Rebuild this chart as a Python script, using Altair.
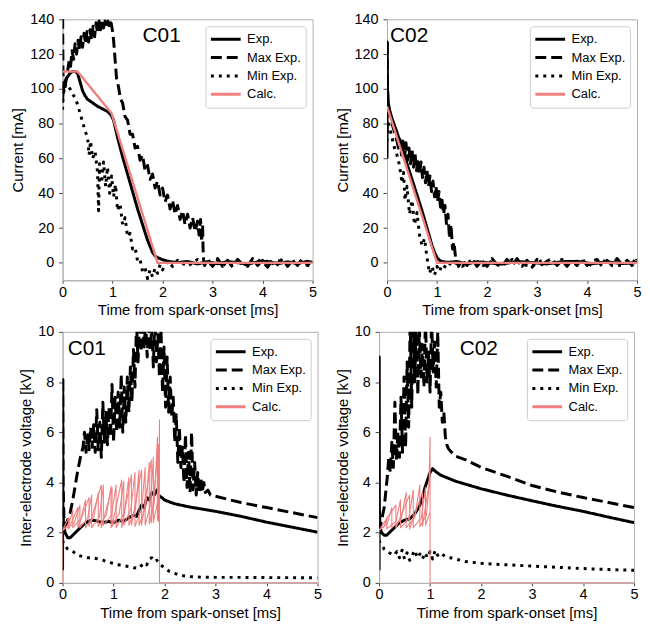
import altair as alt
import pandas as pd

FONT = "Liberation Sans"
NAMES = ["Exp.", "Max Exp.", "Min Exp.", "Calc."]
COLORS = ["#000000", "#000000", "#000000", "#f08080"]
DASHES = [[1, 0], [11, 5], [3, 5], [1, 0]]
LEGEND_WIDTHS = [3, 3, 3, 1.6]
X_TICKS = [0, 1, 2, 3, 4, 5]
X_TITLE = "Time from spark-onset [ms]"
I_TICKS = [0, 20, 40, 60, 80, 100, 120, 140]
V_TICKS = [0, 2, 4, 6, 8, 10]

# ---------------- C01 current ----------------
c01i_exp_t = [0, 0.01, 0.03, 0.06, 0.1, 0.15, 0.2, 0.25, 0.3, 0.35,
              0.4, 0.45, 0.5, 0.6, 0.7, 0.8, 0.9, 0.97, 1.02, 1.1,
              1.2, 1.3, 1.4, 1.5, 1.6, 1.7, 1.8, 1.85, 1.9, 2.0,
              2.1, 2.2, 2.3, 2.5, 2.7, 2.9, 3.1, 3.3, 3.5, 3.7,
              3.9, 4.1, 4.3, 4.5, 4.7, 4.9, 5.0]
c01i_exp_v = [92, 100, 103, 105, 107, 109, 110, 110, 109, 104,
              99, 96, 94, 92, 90, 88.5, 87, 85, 82, 72,
              61, 51, 41, 31, 22, 13, 6, 4, 3, 1.8,
              1, 0.5, 0.2, 0.8, -0.6, 0.7, -0.5, 0.8, 0.1, -0.7,
              0.6, 0.9, -0.5, 0.6, -0.4, 0.9, 0.2]
c01i_max_t = [0, 0.004, 0.008, 0.015, 0.03, 0.05, 0.07, 0.1, 0.13, 0.16,
              0.19, 0.22, 0.25, 0.28, 0.31, 0.34, 0.37, 0.4, 0.43, 0.46,
              0.49, 0.52, 0.55, 0.58, 0.61, 0.64, 0.67, 0.7, 0.73, 0.76,
              0.79, 0.82, 0.85, 0.88, 0.91, 0.94, 0.97, 1.0, 1.02, 1.05,
              1.08, 1.12, 1.16, 1.2, 1.25, 1.3, 1.35, 1.4, 1.45, 1.5,
              1.55, 1.6, 1.65, 1.7, 1.75, 1.8, 1.85, 1.9, 1.95, 2.0,
              2.05, 2.1, 2.15, 2.2, 2.25, 2.3, 2.35, 2.4, 2.45, 2.5,
              2.55, 2.6, 2.65, 2.7, 2.73, 2.76, 2.78, 2.8, 2.81, 2.82,
              2.84, 2.9, 3.0, 3.1, 3.2, 3.3, 3.4, 3.5, 3.6, 3.7,
              3.8, 3.9, 4.0, 4.1, 4.2, 4.3, 4.4, 4.5, 4.6, 4.7,
              4.8, 4.9, 5.0]
c01i_max_v = [150, 130, 112, 102, 98, 101, 105, 110, 116, 113,
              122, 117, 126, 120, 128, 122, 130, 124, 132, 126,
              133, 127, 134, 128, 136, 130, 138, 132, 139, 134,
              139, 135, 139, 136, 139, 135, 138, 133, 128, 117,
              106, 101, 94, 92, 84, 82, 74, 74, 66, 67,
              59, 62, 53, 56, 48, 51, 43, 47, 39, 43,
              35, 39, 31, 36, 28, 33, 25, 30, 22, 28,
              20, 26, 18, 24, 16, 25, 12, 22, 8, 2,
              -1.5, 2, -2, 2.5, -2, 1.5, -2.5, 2, -1, -2,
              2.5, -1.5, 1.5, -2.5, 2, -1, 2.5, -2, 1.5, -1.5,
              2.5, -1.5, 2]
c01i_min_t = [0, 0.01, 0.03, 0.06, 0.1, 0.15, 0.2, 0.25, 0.3, 0.35,
              0.4, 0.45, 0.5, 0.53, 0.56, 0.6, 0.65, 0.7, 0.72, 0.74,
              0.78, 0.82, 0.86, 0.9, 0.94, 0.98, 1.02, 1.06, 1.1, 1.15,
              1.2, 1.25, 1.3, 1.35, 1.4, 1.45, 1.5, 1.55, 1.6, 1.65,
              1.7, 1.75, 1.8, 1.85, 1.9, 1.95, 2.0, 2.1, 2.2, 2.3,
              2.5, 2.7, 2.9, 3.1, 3.3, 3.5, 3.7, 3.9, 4.1, 4.3,
              4.5, 4.7, 4.9, 5.0]
c01i_min_v = [88, 96, 101, 103, 102, 100, 97, 95, 91, 86,
              81, 76, 72, 62, 70, 60, 64, 52, 30, 57,
              46, 58, 44, 55, 40, 50, 38, 45, 30, 34,
              22, 26, 15, 17, 8, 9, 1, 2, -5, -3,
              -9, -4, -8, -3, -6, -1, -4, 1, -2, 1.5,
              -2, 2, -1.5, 1.5, -2, 1, -1.5, 2, -2, 1.5,
              -1, 2, -1.5, 0.5]
c01i_calc_t = [0, 0.3, 0.98, 1.9, 5.0]
c01i_calc_v = [110, 110, 86, 0, 0]

# ---------------- C02 current ----------------
c02i_exp_t = [0, 0.004, 0.008, 0.02, 0.05, 0.1, 0.2, 0.3, 0.4, 0.5,
              0.6, 0.7, 0.8, 0.85, 0.9, 0.95, 1.0, 1.05, 1.1, 1.2,
              1.4, 1.6, 1.8, 2.0, 2.3, 2.6, 2.9, 3.2, 3.5, 3.8,
              4.1, 4.4, 4.7, 5.0]
c02i_exp_v = [60, 127, 100, 93, 88, 83, 75, 66, 57, 48,
              39, 30, 20, 15, 10, 6, 3, 1.5, 0.8, 0.3,
              0.8, -0.6, 0.7, 0.1, -0.7, 0.8, 0.2, -0.6, 0.7, 0.9,
              -0.5, 0.6, -0.4, 0.2]
c02i_max_t = [0, 0.004, 0.008, 0.02, 0.05, 0.08, 0.11, 0.14, 0.17, 0.2,
              0.23, 0.26, 0.29, 0.32, 0.35, 0.38, 0.41, 0.44, 0.47, 0.5,
              0.53, 0.56, 0.59, 0.62, 0.65, 0.68, 0.71, 0.74, 0.77, 0.8,
              0.83, 0.86, 0.89, 0.92, 0.95, 0.98, 1.01, 1.04, 1.07, 1.1,
              1.13, 1.16, 1.19, 1.22, 1.25, 1.28, 1.31, 1.34, 1.37, 1.4,
              1.43, 1.5, 1.6, 1.7, 1.8, 1.9, 2.0, 2.1, 2.2, 2.3,
              2.4, 2.5, 2.6, 2.7, 2.8, 2.9, 3.0, 3.1, 3.2, 3.3,
              3.4, 3.5, 3.6, 3.7, 3.8, 3.9, 4.0, 4.1, 4.2, 4.3,
              4.4, 4.5, 4.6, 4.7, 4.8, 4.9, 5.0]
c02i_max_v = [75, 128, 105, 92, 86, 83, 79, 76, 73, 70,
              66, 71, 62, 70, 60, 69, 59, 66, 57, 65,
              55, 63, 53, 60, 51, 58, 49, 55, 46, 53,
              44, 50, 41, 47, 38, 44, 35, 41, 32, 36,
              28, 33, 22, 28, 14, 22, 8, 12, 3, 1,
              -2, 2, -1.5, 2.5, -2, 1.5, -2, 2.5, -1, -2,
              2, -1.5, 2.5, -2, 1.5, -2.5, 2, -1, 1, 2.5,
              -1.5, 1.5, -2, 2, -1.5, 2.5, -1.5, 1, 2, -2,
              1.5, -1.5, 2.5, -1, 1.5, -1.5, 2]
c02i_min_t = [0, 0.01, 0.05, 0.1, 0.15, 0.2, 0.25, 0.3, 0.33, 0.36,
              0.4, 0.45, 0.5, 0.55, 0.6, 0.65, 0.7, 0.75, 0.8, 0.85,
              0.9, 0.95, 1.0, 1.05, 1.1, 1.2, 1.3, 1.5, 1.7, 1.9,
              2.1, 2.3, 2.5, 2.7, 2.9, 3.1, 3.3, 3.5, 3.7, 3.9,
              4.1, 4.3, 4.5, 4.7, 4.9, 5.0]
c02i_min_v = [70, 82, 78, 72, 66, 62, 56, 46, 52, 36,
              44, 28, 36, 22, 29, 16, 10, 14, 3, -6,
              -2, -7, -2, -5, -1, -3, 1, -2, 1.5, -2,
              1, -1.5, 2, -1, -2, 1.5, -1, 2, -1.5, 1,
              -1.5, 1.5, -1, -1.5, 1.5, 0]
c02i_calc_t = [0, 1.0, 5.0]
c02i_calc_v = [90, 0, 0]

# ---------------- C01 voltage ----------------
c01v_exp_t = [0, 0.003, 0.006, 0.02, 0.05, 0.1, 0.15, 0.2, 0.3, 0.4,
              0.5, 0.6, 0.7, 0.8, 0.9, 1.0, 1.1, 1.2, 1.3, 1.4,
              1.45, 1.5, 1.55, 1.6, 1.65, 1.7, 1.75, 1.8, 1.85, 1.9,
              1.95, 2.0, 2.2, 2.5, 3.0, 3.5, 4.0, 4.5, 5.0]
c01v_exp_v = [0.5, 8.1, 3.0, 2.3, 2.0, 1.8, 1.8, 1.9, 2.1, 2.3,
              2.45, 2.5, 2.45, 2.4, 2.45, 2.4, 2.5, 2.45, 2.6, 2.7,
              2.65, 2.9, 3.1, 3.0, 3.4, 3.3, 3.6, 3.5, 3.7, 3.45,
              3.4, 3.3, 3.15, 3.02, 2.85, 2.65, 2.42, 2.22, 2.02]
c01v_max_t = [0, 0.003, 0.01, 0.03, 0.06, 0.1, 0.15, 0.2, 0.25, 0.3,
              0.35, 0.4, 0.43, 0.46, 0.49, 0.52, 0.55, 0.58, 0.61, 0.64,
              0.67, 0.7, 0.73, 0.76, 0.79, 0.82, 0.85, 0.88, 0.91, 0.94,
              0.97, 1.0, 1.03, 1.06, 1.09, 1.12, 1.15, 1.18, 1.21, 1.24,
              1.27, 1.3, 1.33, 1.36, 1.39, 1.42, 1.45, 1.48, 1.51, 1.54,
              1.57, 1.6, 1.63, 1.66, 1.69, 1.72, 1.75, 1.78, 1.81, 1.84,
              1.87, 1.9, 1.93, 1.96, 1.99, 2.02, 2.05, 2.08, 2.11, 2.14,
              2.17, 2.2, 2.23, 2.26, 2.29, 2.32, 2.35, 2.38, 2.41, 2.44,
              2.47, 2.5, 2.53, 2.56, 2.59, 2.62, 2.65, 2.68, 2.71, 2.74,
              2.77, 2.8, 2.85, 2.9, 3.0, 3.5, 4.0, 4.5, 5.0]
c01v_max_v = [2.0, 8.2, 4.0, 2.3, 2.3, 2.5, 2.8, 3.3, 3.9, 4.5,
              5.0, 5.4, 6.0, 5.2, 5.9, 5.3, 6.2, 5.4, 6.3, 5.2,
              6.9, 5.3, 6.4, 5.0, 7.2, 5.6, 6.8, 5.5, 7.0, 5.8,
              7.9, 5.6, 7.4, 6.0, 7.6, 6.2, 8.3, 6.0, 7.8, 6.4,
              8.2, 6.8, 8.6, 7.2, 9.3, 7.8, 10.4, 8.8, 10.5, 9.2,
              10.5, 9.4, 10.4, 9.0, 10.5, 9.3, 10.2, 8.6, 10.5, 8.8,
              9.9, 8.2, 10.1, 7.6, 9.4, 7.0, 9.0, 6.8, 8.2, 6.6,
              7.4, 5.6, 6.7, 4.8, 6.2, 4.6, 5.4, 4.0, 5.9, 3.8,
              5.2, 3.6, 6.0, 3.7, 4.8, 3.5, 4.4, 3.6, 4.2, 3.6,
              4.0, 3.6, 3.7, 3.5, 3.45, 3.2, 3.0, 2.8, 2.6]
c01v_min_t = [0, 0.02, 0.1, 0.2, 0.3, 0.4, 0.5, 0.6, 0.7, 0.8,
              0.9, 1.0, 1.1, 1.2, 1.3, 1.4, 1.5, 1.55, 1.6, 1.65,
              1.7, 1.75, 1.8, 1.85, 1.9, 2.0, 2.1, 2.2, 2.3, 2.5,
              2.7, 3.0, 3.5, 4.0, 4.5, 5.0]
c01v_min_v = [1.7, 1.55, 1.35, 1.25, 1.1, 1.05, 1.0, 1.0, 0.95, 0.9,
              0.82, 0.78, 0.72, 0.68, 0.65, 0.6, 0.58, 0.7, 0.8, 0.72,
              0.95, 1.0, 0.85, 0.9, 0.75, 0.6, 0.45, 0.38, 0.3, 0.25,
              0.23, 0.22, 0.22, 0.21, 0.21, 0.2]
c01v_calc_a_t = [0, 0, 0.13, 0.2, 0.2, 0.36, 0.45, 0.45, 0.61, 0.7, 0.7,
                 0.86, 0.95, 0.95, 1.11, 1.2, 1.2, 1.34, 1.42, 1.42,
                 1.55, 1.62, 1.62, 1.72, 1.78, 1.78, 1.86, 1.89, 1.9, 1.9, 5.0]
c01v_calc_a_v = [0, 2.1, 2.35, 2.9, 2.2, 2.55, 3.3, 2.2, 2.6, 3.6, 2.25,
                 2.7, 3.85, 2.2, 2.75, 4.05, 2.3, 2.95, 4.4, 2.25,
                 2.95, 4.6, 2.3, 3.1, 5.0, 2.4, 3.2, 4.3, 6.5, 0, 0]
c01v_calc_b_t = [0, 0.22, 0.34, 0.34, 0.49, 0.57, 0.57, 0.72, 0.8, 0.8,
                 0.96, 1.05, 1.05, 1.21, 1.3, 1.3, 1.43, 1.5, 1.5,
                 1.63, 1.7, 1.7, 1.8, 1.86, 1.86, 1.9]
c01v_calc_b_v = [2.1, 2.35, 3.1, 2.2, 2.55, 3.5, 2.2, 2.6, 3.9, 2.3,
                 2.7, 3.9, 2.2, 2.8, 4.2, 2.3, 2.95, 4.5, 2.3,
                 3.0, 4.8, 2.35, 3.2, 5.8, 2.5, 3.0]
c01v_calc_c_t = [0, 0.12, 0.12, 0.3, 0.3, 0.52, 0.52, 0.76, 0.76, 0.97,
                 0.97, 1.16, 1.16, 1.35, 1.35, 1.55, 1.55, 1.74, 1.74,
                 1.88, 1.88, 1.9]
c01v_calc_c_v = [2.1, 2.6, 2.15, 3.0, 2.2, 3.4, 2.25, 3.9, 2.2, 3.8,
                 2.25, 4.1, 2.2, 4.3, 2.3, 4.5, 2.3, 4.9, 2.4,
                 5.5, 2.45, 2.7]

# ---------------- C02 voltage ----------------
c02v_exp_t = [0, 0.003, 0.006, 0.02, 0.05, 0.1, 0.15, 0.2, 0.3, 0.4,
              0.5, 0.6, 0.7, 0.8, 0.85, 0.9, 0.95, 1.0, 1.05, 1.1,
              1.2, 1.5, 2.0, 2.5, 3.0, 3.5, 4.0, 4.5, 5.0]
c02v_exp_v = [0.5, 9.0, 3.0, 2.2, 2.0, 1.9, 1.9, 2.0, 2.2, 2.4,
              2.5, 2.55, 2.75, 3.1, 3.4, 3.8, 4.1, 4.4, 4.55, 4.45,
              4.3, 4.05, 3.75, 3.5, 3.27, 3.05, 2.85, 2.62, 2.4]
c02v_max_t = [0, 0.01, 0.03, 0.06, 0.1, 0.13, 0.16, 0.19, 0.22, 0.25,
              0.28, 0.31, 0.34, 0.37, 0.4, 0.43, 0.46, 0.49, 0.52, 0.55,
              0.58, 0.61, 0.64, 0.67, 0.7, 0.73, 0.76, 0.79, 0.82, 0.85,
              0.88, 0.91, 0.94, 0.97, 1.0, 1.03, 1.06, 1.09, 1.12, 1.15,
              1.18, 1.21, 1.24, 1.27, 1.3, 1.33, 1.36, 1.4, 1.5, 1.7,
              2.0, 2.5, 3.0, 3.5, 4.0, 4.5, 5.0]
c02v_max_v = [2.0, 2.1, 2.3, 2.6, 3.0, 3.6, 4.2, 5.0, 4.4, 5.6,
              4.6, 7.2, 4.9, 6.0, 5.0, 7.4, 5.2, 8.2, 5.4, 8.8,
              6.2, 10.5, 7.0, 10.5, 8.0, 10.5, 7.5, 10.2, 8.2, 9.5,
              7.8, 10.5, 8.0, 9.2, 7.6, 10.5, 8.4, 9.6, 7.8, 10.0,
              7.0, 7.6, 6.4, 6.8, 5.8, 5.5, 5.35, 5.25, 5.05, 4.9,
              4.6, 4.25, 3.88, 3.62, 3.4, 3.2, 3.0]
c02v_min_t = [0, 0.02, 0.1, 0.2, 0.3, 0.35, 0.4, 0.45, 0.5, 0.55,
              0.6, 0.65, 0.7, 0.75, 0.8, 0.85, 0.9, 0.95, 1.0, 1.05,
              1.1, 1.15, 1.2, 1.3, 1.5, 1.7, 2.0, 2.5, 3.0, 3.5,
              4.0, 4.5, 5.0]
c02v_min_v = [1.7, 1.6, 1.35, 1.2, 1.1, 1.25, 1.0, 1.3, 0.95, 1.2,
              0.9, 1.1, 1.3, 1.0, 1.15, 0.95, 1.2, 1.0, 1.25, 0.95,
              1.3, 1.1, 1.2, 1.05, 0.95, 0.85, 0.78, 0.72, 0.67, 0.62,
              0.57, 0.53, 0.5]
c02v_calc_a_t = [0, 0, 0.16, 0.25, 0.25, 0.43, 0.53, 0.53, 0.7, 0.8, 0.8,
                 0.93, 0.98, 1.0, 1.0, 5.0]
c02v_calc_a_v = [0, 2.1, 2.35, 3.0, 2.2, 2.5, 3.6, 2.2, 2.6, 3.9, 2.25,
                 2.7, 3.9, 5.8, 0, 0]
c02v_calc_b_t = [0, 0.1, 0.15, 0.15, 0.33, 0.42, 0.42, 0.58, 0.67, 0.67,
                 0.83, 0.91, 0.91, 1.0]
c02v_calc_b_v = [2.1, 2.25, 2.6, 2.15, 2.45, 3.3, 2.2, 2.55, 3.7, 2.2,
                 2.6, 3.8, 2.3, 2.8]
c02v_calc_c_t = [0, 0.33, 0.33, 0.6, 0.6, 0.85, 0.85, 1.0]
c02v_calc_c_v = [2.1, 3.1, 2.2, 3.5, 2.15, 3.6, 2.25, 4.2]

# panel labels (text, t, value)
LABELS = {
    "c01i": ("C01", 1.6, 127),
    "c02i": ("C02", 0.06, 127),
    "c01v": ("C01", 0.1, 9.08),
    "c02v": ("C02", 1.58, 9.08),
}


def series_df(name, t, v, run="a"):
    assert len(t) == len(v), (name, run, len(t), len(v))
    return pd.DataFrame({"series": name, "run": run,
                         "i": list(range(len(t))), "t": t, "v": v})


def legend():
    return alt.Legend(title=None, orient="top-right", offset=7, padding=4,
                      fillColor="white", strokeColor="#cccccc", cornerRadius=3,
                      symbolType="stroke", symbolSize=900, clipHeight=18,
                      labelFontSize=13, labelFont=FONT, labelColor="black",
                      labelOffset=5, rowPadding=0.5)


def make_panel(df, lab, ytitle, ydom, yticks, w, h, calc_w):
    x_enc = alt.X("t:Q", scale=alt.Scale(domain=[0, 5], nice=False, zero=False),
                  axis=alt.Axis(values=X_TICKS, title=X_TITLE, labelOverlap=False))
    y_enc = alt.Y("v:Q", scale=alt.Scale(domain=ydom, nice=False, zero=False),
                  axis=alt.Axis(values=yticks, title=ytitle, labelOverlap=False))
    enc = dict(
        x=x_enc,
        y=y_enc,
        color=alt.Color("series:N", scale=alt.Scale(domain=NAMES, range=COLORS),
                        legend=legend()),
        strokeDash=alt.StrokeDash("series:N", scale=alt.Scale(domain=NAMES, range=DASHES),
                                  legend=legend()),
        detail="run:N",
        order="i:Q",
    )
    black = alt.Chart(df[df.series != "Calc."]).mark_line(
        clip=True, strokeJoin="round").encode(
        strokeWidth=alt.StrokeWidth("series:N",
                                    scale=alt.Scale(domain=NAMES, range=LEGEND_WIDTHS),
                                    legend=legend()),
        **enc)
    calc = alt.Chart(df[df.series == "Calc."]).mark_line(
        clip=True, strokeJoin="round").encode(
        strokeWidth=alt.value(calc_w), **enc)
    lab_df = pd.DataFrame({"t": [lab[1]], "v": [lab[2]], "label": [lab[0]]})
    text = alt.Chart(lab_df).mark_text(
        align="left", baseline="alphabetic", fontSize=21, font=FONT, color="black"
    ).encode(x=x_enc, y=y_enc, text="label:N")
    return alt.layer(black, calc, text).properties(width=w, height=h)


df_c01i = pd.concat([
    series_df("Exp.", c01i_exp_t, c01i_exp_v),
    series_df("Max Exp.", c01i_max_t, c01i_max_v),
    series_df("Min Exp.", c01i_min_t, c01i_min_v),
    series_df("Calc.", c01i_calc_t, c01i_calc_v),
])
df_c02i = pd.concat([
    series_df("Exp.", c02i_exp_t, c02i_exp_v),
    series_df("Max Exp.", c02i_max_t, c02i_max_v),
    series_df("Min Exp.", c02i_min_t, c02i_min_v),
    series_df("Calc.", c02i_calc_t, c02i_calc_v),
])
df_c01v = pd.concat([
    series_df("Exp.", c01v_exp_t, c01v_exp_v),
    series_df("Max Exp.", c01v_max_t, c01v_max_v),
    series_df("Min Exp.", c01v_min_t, c01v_min_v),
    series_df("Calc.", c01v_calc_a_t, c01v_calc_a_v, "a"),
    series_df("Calc.", c01v_calc_b_t, c01v_calc_b_v, "b"),
    series_df("Calc.", c01v_calc_c_t, c01v_calc_c_v, "c"),
])
df_c02v = pd.concat([
    series_df("Exp.", c02v_exp_t, c02v_exp_v),
    series_df("Max Exp.", c02v_max_t, c02v_max_v),
    series_df("Min Exp.", c02v_min_t, c02v_min_v),
    series_df("Calc.", c02v_calc_a_t, c02v_calc_a_v, "a"),
    series_df("Calc.", c02v_calc_b_t, c02v_calc_b_v, "b"),
    series_df("Calc.", c02v_calc_c_t, c02v_calc_c_v, "c"),
])

p1 = make_panel(df_c01i, LABELS["c01i"], "Current [mA]", [-10, 140], I_TICKS, 252, 263, 2.4)
p2 = make_panel(df_c02i, LABELS["c02i"], "Current [mA]", [-10, 140], I_TICKS, 252, 263, 2.4)
p3 = make_panel(df_c01v, LABELS["c01v"], "Inter-electrode voltage [kV]", [0, 10], V_TICKS, 257, 253, 1.1)
p4 = make_panel(df_c02v, LABELS["c02v"], "Inter-electrode voltage [kV]", [0, 10], V_TICKS, 257, 253, 1.1)

RES = dict(color="independent", strokeDash="independent", strokeWidth="independent")

chart = alt.concat(p1, p2, p3, p4, columns=2, spacing={"row": 5, "column": 12},
                   align="none").resolve_scale(**RES).properties(
    padding={"left": 2, "top": 0, "right": 0, "bottom": 0},
    background="white",
).configure_view(
    stroke="#b0b0b0", strokeWidth=1
).configure_axis(
    labelFont=FONT, titleFont=FONT, labelFontSize=14.5, titleFontSize=15,
    titleFontWeight="normal", labelColor="black", titleColor="black",
    domainColor="#b0b0b0", tickColor="#444444", grid=False,
    labelFlush=False, labelOverlap=False,
).configure_axisX(
    tickSize=3, labelPadding=2, titlePadding=4,
).configure_axisY(
    tickSize=4, labelPadding=5, titlePadding=4,
)

chart.save("out.html", embed_options={"renderer": "svg", "actions": False})
